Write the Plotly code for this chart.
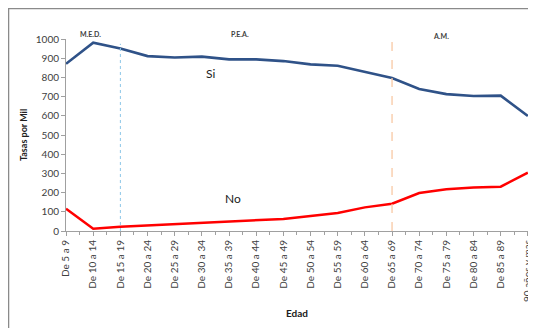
import plotly.graph_objects as go

categories = ["De 5 a 9", "De 10 a 14", "De 15 a 19", "De 20 a 24", "De 25 a 29",
              "De 30 a 34", "De 35 a 39", "De 40 a 44", "De 45 a 49", "De 50 a 54",
              "De 55 a 59", "De 60 a 64", "De 65 a 69", "De 70 a 74", "De 75 a 79",
              "De 80 a 84", "De 85 a 89", "90 años y mas"]
si_values = [871, 981, 951, 911, 904, 908, 894, 894, 885, 868, 861, 830, 797,
             740, 713, 703, 705, 599]
no_values = [116, 12, 22, 29, 35, 43, 50, 55, 63, 78, 94, 123, 142,
             198, 217, 226, 231, 304]
y_ticks = [0, 100, 200, 300, 400, 500, 600, 700, 800, 900, 1000]
stage_labels = ["M.E.D.", "P.E.A.", "A.M."]
stage_label_pos = [0.9, 6.4, 13.8]
divider_pos = [2, 12]

x_idx = list(range(len(categories)))
FONT = "Lato"

fig = go.Figure()
fig.add_trace(go.Scatter(x=x_idx, y=si_values, mode="lines", name="Si",
                         line=dict(color="#2F5288", width=2.6)))
fig.add_trace(go.Scatter(x=x_idx, y=no_values, mode="lines", name="No",
                         line=dict(color="#FF0000", width=2.5)))

# divider lines
fig.add_shape(type="line", xref="x", yref="y", x0=divider_pos[0], x1=divider_pos[0],
              y0=0, y1=975, line=dict(color="#8DC6E8", width=1, dash="dot"))
fig.add_shape(type="line", xref="x", yref="y", x0=divider_pos[1], x1=divider_pos[1],
              y0=0, y1=985, line=dict(color="#F8C9A4", width=1.3, dash="dash"))

# chart border (top and left edges visible)
fig.add_shape(type="rect", xref="paper", yref="paper", x0=-0.1242, x1=1.1,
              y0=-0.7, y1=1.158, line=dict(color="#8A8A8A", width=1.3),
              fillcolor="rgba(0,0,0,0)", layer="below")

for lbl, pos, yy in zip(stage_labels, stage_label_pos, [1.055, 1.055, 1.045]):
    fig.add_annotation(x=pos, y=yy, xref="x", yref="paper", text="<b>" + lbl + "</b>",
                       showarrow=False, font=dict(family=FONT, size=7, color="#404040"))

fig.add_annotation(x=5.3, y=820, xref="x", yref="y", text="Si", showarrow=False,
                   font=dict(family=FONT, size=12, color="#222222"))
fig.add_annotation(x=6.15, y=168, xref="x", yref="y", text="No", showarrow=False,
                   font=dict(family=FONT, size=12, color="#222222"))

# page body has an 8px margin: figure is placed at (8, 8); keep page within window
fig.update_layout(
    width=526, height=320,
    margin=dict(l=58, r=6, t=31, b=97),
    paper_bgcolor="white", plot_bgcolor="white",
    showlegend=False,
    font=dict(family=FONT, size=10, color="#404040"),
)
fig.update_xaxes(
    range=[-0.002, 17.005], tickmode="array", tickvals=x_idx, ticktext=categories,
    tickangle=-90, showgrid=False, zeroline=False, automargin=False,
    ticklabeloverflow="allow",
    showline=True, linecolor="#A0A0A0", linewidth=1,
    ticks="outside", ticklen=4, tickcolor="#A0A0A0",
    minor=dict(dtick=0.5, tick0=0, ticks="outside", ticklen=3, tickcolor="#A0A0A0", showgrid=False),
    tickfont=dict(family=FONT, size=10, color="#404040"),
    title=dict(text="<b>Edad</b>", font=dict(family=FONT, size=10, color="#202020"), standoff=8),
    fixedrange=True,
)
fig.update_yaxes(
    range=[0, 1000], tickmode="array", tickvals=y_ticks,
    showgrid=False, zeroline=False, automargin=False,
    showline=True, linecolor="#A0A0A0", linewidth=1,
    ticks="outside", ticklen=4, tickcolor="#A0A0A0",
    tickfont=dict(family=FONT, size=10, color="#404040"),
    title=dict(text="<b>Tasas por Mil</b>", font=dict(family=FONT, size=9, color="#202020"), standoff=6),
    fixedrange=True,
)

fig.write_html("out.html")
